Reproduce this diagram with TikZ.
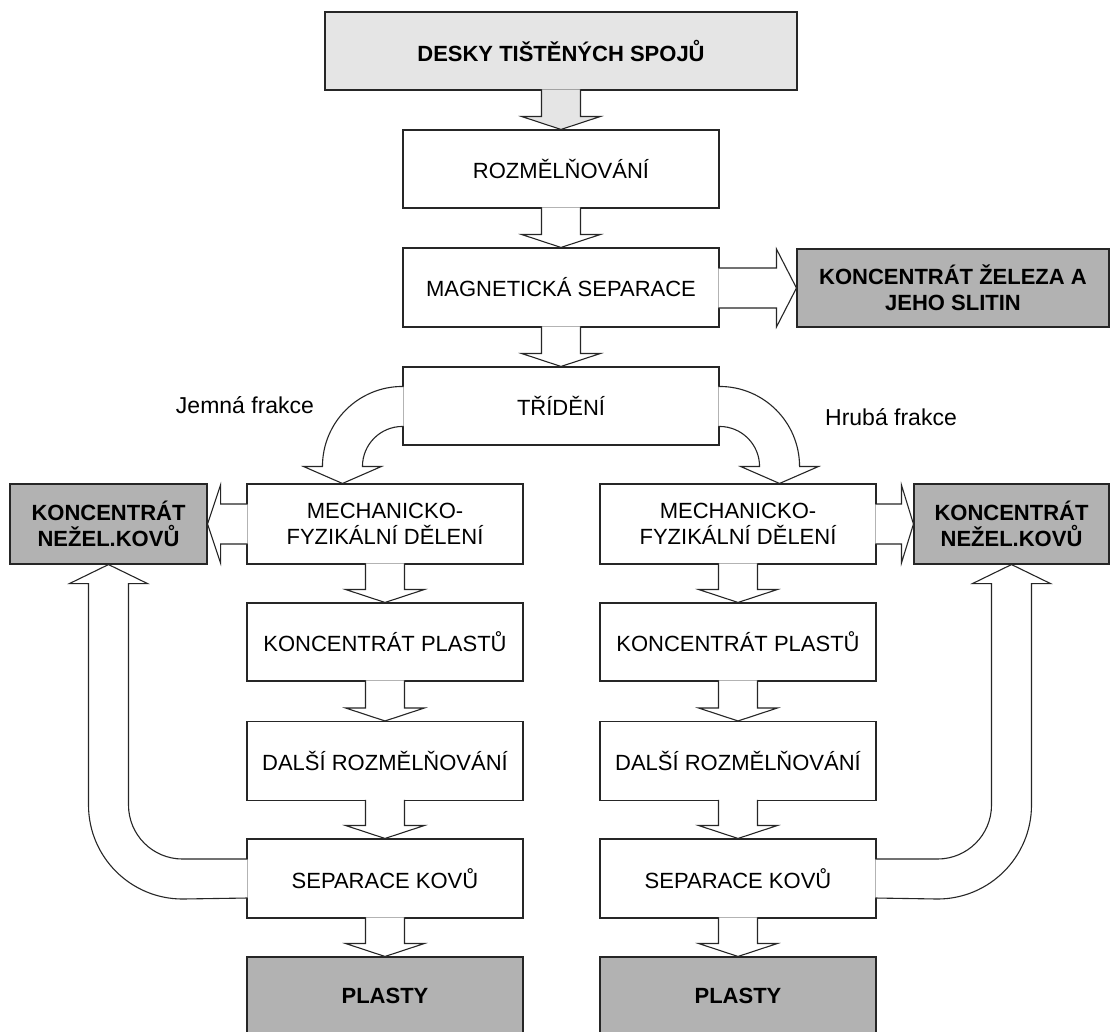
\documentclass[tikz,border=0pt]{standalone}
\usepackage{fontspec}
\setmainfont{Liberation Sans}
\usetikzlibrary{calc,positioning}

\tikzset{
  stepbox/.style={draw=black!85,line width=1.1pt,fill=white,inner sep=0pt,align=center,
    minimum height=78pt,font=\fontsize{22}{26}\selectfont},
  grbox/.style={stepbox,fill=black!30,font=\fontsize{22}{26}\selectfont\bfseries},
  flowline/.style={draw=black!85,line width=1.1pt},
  lbl/.style={font=\fontsize{23}{27}\selectfont},
}

% block arrows: shaft merges into the source box, tip touches the target
\newcommand\arrdown[3][white]{%
  \filldraw[flowline,fill=#1] ($(#3.north |- #2.south)+(-19.5,1.2)$) -- ($(#3.north)+(-19.5,13)$)
    -- ($(#3.north)+(-39.5,13)$) -- (#3.north) -- ($(#3.north)+(39.5,13)$)
    -- ($(#3.north)+(19.5,13)$) -- ($(#3.north |- #2.south)+(19.5,1.2)$);}
\newcommand\arrright[4][white]{%
  \filldraw[flowline,fill=#1] ($(#2.east |- #3.west)+(-1.2,20)$) -- ($(#3.west)+(-#4,20)$)
    -- ($(#3.west)+(-#4,39)$) -- (#3.west) -- ($(#3.west)+(-#4,-39)$)
    -- ($(#3.west)+(-#4,-20)$) -- ($(#2.east |- #3.west)+(-1.2,-20)$);}
\newcommand\arrleft[4][white]{%
  \filldraw[flowline,fill=#1] ($(#2.west |- #3.east)+(1.2,20)$) -- ($(#3.east)+(#4,20)$)
    -- ($(#3.east)+(#4,39)$) -- (#3.east) -- ($(#3.east)+(#4,-39)$)
    -- ($(#3.east)+(#4,-20)$) -- ($(#2.west |- #3.east)+(1.2,-20)$);}

\begin{document}
\begin{tikzpicture}[x=1pt,y=1pt]
\useasboundingbox (0,0) rectangle (1110,-1031);
\clip (0,0) rectangle (1110,-1031);

% main line
\node[stepbox,fill=black!10,font=\fontsize{22}{26}\selectfont\bfseries,minimum width=472pt] (pcb) at (561,-51) {DESKY TIŠTĚNÝCH SPOJŮ};
\node[stepbox,minimum width=316pt] (crush) at (561,-169) {ROZMĚLŇOVÁNÍ};
\node[stepbox,minimum width=316pt,minimum height=79pt] (magsep) at (561,-287.5) {MAGNETICKÁ SEPARACE};
\node[grbox,minimum width=312pt] (iron) at (953,-288) {KONCENTRÁT ŽELEZA A\\JEHO SLITIN};
\node[stepbox,minimum width=316pt] (sort) at (561,-406) {TŘÍDĚNÍ};

\node[lbl] (fine) at (245,-405) {Jemná frakce};
\node[lbl] (coarse) at (891,-417) {Hrubá frakce};

% side products
\node[grbox,minimum width=197pt,minimum height=80pt] (nfL) at (108.5,-524) {KONCENTRÁT\\NEŽEL.KOVŮ};
\node[grbox,minimum width=195pt,minimum height=80pt] (nfR) at (1011.5,-524) {KONCENTRÁT\\NEŽEL.KOVŮ};

% two fractions
\foreach \s/\cx in {L/385,R/738}{
  \node[stepbox,minimum width=276pt,minimum height=80pt] (mech\s) at (\cx,-524) {MECHANICKO-\\FYZIKÁLNÍ DĚLENÍ};
  \node[stepbox,minimum width=276pt] (plast\s) at (\cx,-642) {KONCENTRÁT PLASTŮ};
  \node[stepbox,minimum width=276pt,minimum height=79pt] (mill\s) at (\cx,-761) {DALŠÍ ROZMĚLŇOVÁNÍ};
  \node[stepbox,minimum width=276pt,minimum height=79pt] (sep\s) at (\cx,-878.5) {SEPARACE KOVŮ};
  \node[grbox,minimum width=276pt] (plasty\s) at (\cx,-996) {PLASTY};
  \arrdown{mech\s}{plast\s}
  \arrdown{plast\s}{mill\s}
  \arrdown{mill\s}{sep\s}
  \arrdown{sep\s}{plasty\s}
}

\arrdown[black!10]{pcb}{crush}
\arrdown{crush}{magsep}
\arrdown{magsep}{sort}
\arrright{magsep}{iron}{20}
\arrleft{mechL}{nfL}{13}
\arrright{mechR}{nfR}{12}

% curved arrows out of the sorting box
\coordinate (cl) at ($(sort.west |- mechL.north)+(0,17)$);
\filldraw[flowline,fill=white] ($(cl)+(1.2,80)$) -- ($(cl)+(0,80)$) arc[start angle=90,end angle=180,radius=80]
  -- ++(-19,0) -- ($(cl)+(-60,-17)$) -- ($(cl)+(-21,0)$) -- ($(cl)+(-40,0)$)
  arc[start angle=180,end angle=90,radius=40] -- ($(cl)+(1.2,40)$);
\coordinate (cr) at ($(sort.east |- mechR.north)+(0,17)$);
\filldraw[flowline,fill=white] ($(cr)+(-1.2,80)$) -- ($(cr)+(0,80)$) arc[start angle=90,end angle=0,radius=80]
  -- ++(19,0) -- ($(cr)+(60,-17)$) -- ($(cr)+(21,0)$) -- ($(cr)+(40,0)$)
  arc[start angle=0,end angle=90,radius=40] -- ($(cr)+(-1.2,40)$);

% U-turn arrows back up to the metal concentrates
\coordinate (ul) at ($(nfL.south |- sepL.west)+(74,73.5)$);
\filldraw[flowline,fill=white] ($(sepL.west)+(1.2,19.5)$) -- ($(ul)+(0,-54)$)
  arc[start angle=-90,end angle=-180,radius=54] -- ($(nfL.south)+(20,-19)$) -- ($(nfL.south)+(39,-19)$)
  -- (nfL.south) -- ($(nfL.south)+(-39,-19)$) -- ($(nfL.south)+(-20,-19)$) -- ($(ul)+(-94,0)$)
  arc[start angle=180,end angle=270,radius=94] -- ($(sepL.west)+(1.2,-19.5)$);
\coordinate (ur) at ($(nfR.south |- sepR.east)+(-74,73.5)$);
\filldraw[flowline,fill=white] ($(sepR.east)+(-1.2,19.5)$) -- ($(ur)+(0,-54)$)
  arc[start angle=-90,end angle=0,radius=54] -- ($(nfR.south)+(-20,-19)$) -- ($(nfR.south)+(-39,-19)$)
  -- (nfR.south) -- ($(nfR.south)+(39,-19)$) -- ($(nfR.south)+(20,-19)$) -- ($(ur)+(94,0)$)
  arc[start angle=0,end angle=-90,radius=94] -- ($(sepR.east)+(-1.2,-19.5)$);
\end{tikzpicture}
\end{document}
